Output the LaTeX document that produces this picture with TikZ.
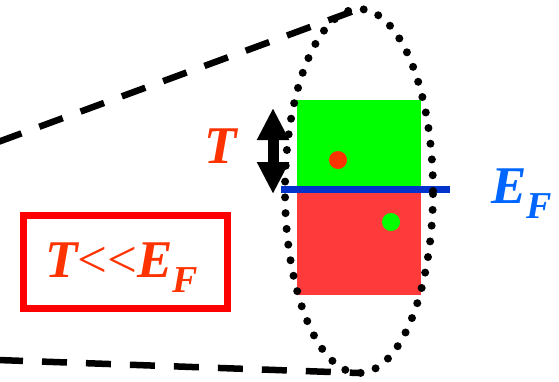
\documentclass[tikz,border=0pt]{standalone}
\usepackage{fontspec}
\setmainfont{Liberation Serif}
\usepackage{tikz}
\usetikzlibrary{arrows.meta,shapes.geometric}
\definecolor{FSGreen}{HTML}{00FF00}
\definecolor{FSRed}{HTML}{FF3A3A}
\definecolor{FSDot}{HTML}{FF3300}
\definecolor{FSLine}{HTML}{0033CC}
\definecolor{FSBlue}{HTML}{0066FF}
\definecolor{FSOrange}{HTML}{FF3300}
\definecolor{FSBox}{HTML}{FF0000}
\newcommand{\bigfont}{\fontsize{53}{53}\selectfont\bfseries\itshape}
\newcommand{\fermiE}{E\raisebox{-15pt}{\fontsize{38}{38}\selectfont F}}
\tikzset{
  fsband/.style={
    rectangle,
    inner sep=0pt,
    outer sep=0pt,
    minimum width=124pt
  },
  fsdot/.style={
    circle,
    inner sep=0pt,
    minimum size=18pt
  },
  fsshell/.style={
    ellipse,
    draw=black,
    line width=8pt,
    line cap=round,
    dash pattern=on 0pt off 15.8pt,
    inner sep=0pt,
    outer sep=0pt,
    minimum width=148pt,
    minimum height=364pt
  },
  fscone/.style={draw=black,line width=6.5pt,dash pattern=on 25pt off 19pt},
  fslevel/.style={draw=FSLine,line width=7pt},
  fsthermal/.style={
    {Triangle[width=30pt,length=32pt]}-{Triangle[width=30pt,length=32pt]},
    draw=black,
    line width=11pt
  },
  fslabel/.style={inner sep=0pt,font=\bigfont},
  fsframe/.style={draw=FSBox,line width=7pt,inner sep=0pt,minimum width=204pt,minimum height=93pt}
}

\begin{document}
\begin{tikzpicture}[x=1pt,y=-1pt]
  \useasboundingbox (0,0) rectangle (559,381);
  % bands below and above the Fermi level
  \node[fsband,fill=FSGreen,minimum height=90pt] (upper) at (359,145) {};
  \node[fsband,fill=FSRed,minimum height=105pt] (lower) at (359,242.5) {};
  \node[fsdot,fill=FSDot] (hole) at (338,160) {};
  \node[fsdot,fill=FSGreen] (elec) at (391,222) {};
  \coordinate (levelL) at (281,189);
  \coordinate (levelR) at (450,189);
  \draw[fslevel] (levelL) -- (levelR);
  % Fermi surface and cone
  \node[fsshell] (shell) at (359,191) {};
  \coordinate (coneTop) at (-2,142);
  \coordinate (coneBot) at (-2,360);
  \draw[fscone] (coneTop) -- (shell.north);
  \draw[fscone] (coneBot) -- (shell.south);
  % thermal smearing
  \coordinate (tHigh) at (273,108);
  \coordinate (tLow) at (273,194);
  \draw[fsthermal] (tHigh) -- (tLow);
  \node[fslabel,text=FSOrange,anchor=base] (temp) at (221,163) {T};
  \node[fslabel,text=FSBlue,anchor=base west] (fermi) at (491,203) {\fermiE};
  % condition box
  \node[fsframe] (cond) at (125.5,262) {};
  \node[fslabel,text=FSOrange,anchor=base west] (condtxt) at (45,277) {T{\normalfont\fontsize{53}{53}\selectfont\mbox{<}\mbox{<}}\fermiE};
\end{tikzpicture}
\end{document}
